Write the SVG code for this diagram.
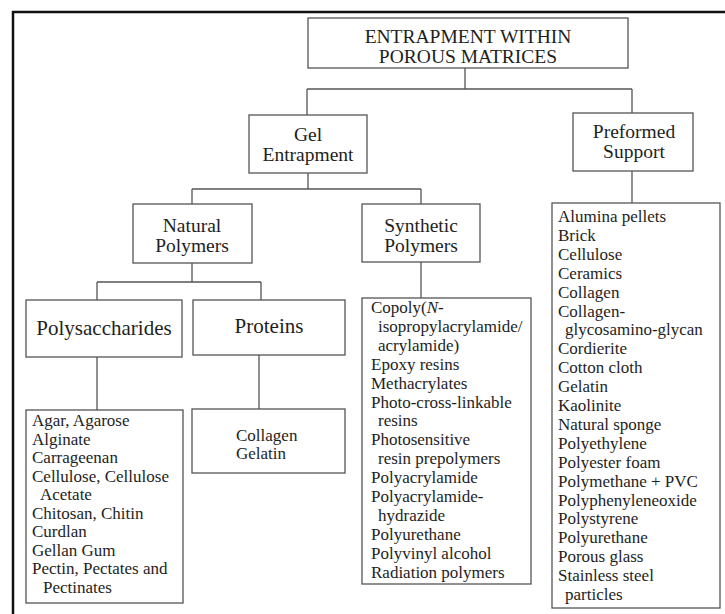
<svg xmlns="http://www.w3.org/2000/svg" width="725" height="614" viewBox="0 0 725 614">
<style>
.box{fill:#fff;stroke:#555;stroke-width:1.3}
.ln{fill:none;stroke:#555;stroke-width:1.3}
.h{font-family:"Liberation Serif","Times New Roman",serif;font-size:19.5px;fill:#1e1e1e;text-anchor:middle}
.l{font-family:"Liberation Serif","Times New Roman",serif;font-size:17px;fill:#1e1e1e}
</style>
<rect x="0" y="0" width="725" height="614" fill="#fff"/>
<path d="M13 614 V12 H725" fill="none" stroke="#111" stroke-width="2.5"/>
<g id="connectors">
<path class="ln" d="M465 68 V89 M307 89 H632 M307 89 V115 M632 89 V113"/>
<path class="ln" d="M308 173 V189 M192 189 H421 M192 189 V204 M421 189 V204"/>
<path class="ln" d="M192 263 V282 M97 282 H261 M97 282 V300 M261 282 V300"/>
<path class="ln" d="M421 262 V298"/>
<path class="ln" d="M632 171 V203"/>
<path class="ln" d="M97 357 V410"/>
<path class="ln" d="M259 355 V409"/>
</g>
<g id="root">
<rect class="box" x="308" y="18" width="320" height="50"/>
<text class="h" x="468" y="42.5">ENTRAPMENT WITHIN</text>
<text class="h" x="468" y="62.5">POROUS MATRICES</text>
</g>
<g id="gel">
<rect class="box" x="249" y="115" width="118" height="58"/>
<text class="h" x="308" y="141">Gel</text>
<text class="h" x="308" y="161">Entrapment</text>
</g>
<g id="preformed">
<rect class="box" x="573" y="113" width="120" height="58"/>
<text class="h" x="634" y="138">Preformed</text>
<text class="h" x="634" y="158">Support</text>
</g>
<g id="natural">
<rect class="box" x="133" y="204" width="119" height="59"/>
<text class="h" x="192" y="232">Natural</text>
<text class="h" x="192" y="252">Polymers</text>
</g>
<g id="synthetic">
<rect class="box" x="362" y="204" width="118" height="58"/>
<text class="h" x="421" y="231.5">Synthetic</text>
<text class="h" x="421" y="251.5">Polymers</text>
</g>
<g id="polysaccharides">
<rect class="box" x="26" y="300" width="156" height="57"/>
<text class="h" x="104" y="335" style="font-size:21px">Polysaccharides</text>
</g>
<g id="proteins">
<rect class="box" x="193" y="300" width="152" height="55"/>
<text class="h" x="269" y="333" style="font-size:21px">Proteins</text>
</g>
<g id="polysaccharides-list">
<rect class="box" x="26" y="410" width="157" height="193"/>
<text class="l" x="32" y="426">Agar, Agarose</text>
<text class="l" x="32" y="444.5">Alginate</text>
<text class="l" x="32" y="463">Carrageenan</text>
<text class="l" x="32" y="481.5">Cellulose, Cellulose</text>
<text class="l" x="40" y="500">Acetate</text>
<text class="l" x="32" y="518.5">Chitosan, Chitin</text>
<text class="l" x="32" y="537">Curdlan</text>
<text class="l" x="32" y="555.5">Gellan Gum</text>
<text class="l" x="32" y="574">Pectin, Pectates and</text>
<text class="l" x="43" y="592.5">Pectinates</text>
</g>
<g id="proteins-list">
<rect class="box" x="192" y="409" width="153" height="64"/>
<text class="l" x="236" y="441">Collagen</text>
<text class="l" x="236" y="459">Gelatin</text>
</g>
<g id="synthetic-list">
<rect class="box" x="362" y="298" width="169" height="286"/>
<text class="l" x="371" y="313">Copoly(<tspan font-style="italic">N</tspan>-</text>
<text class="l" x="378" y="331.9">isopropylacrylamide/</text>
<text class="l" x="378" y="350.8">acrylamide)</text>
<text class="l" x="371" y="369.7">Epoxy resins</text>
<text class="l" x="371" y="388.6">Methacrylates</text>
<text class="l" x="371" y="407.5">Photo-cross-linkable</text>
<text class="l" x="378" y="426.4">resins</text>
<text class="l" x="371" y="445.3">Photosensitive</text>
<text class="l" x="378" y="464.2">resin prepolymers</text>
<text class="l" x="371" y="483.1">Polyacrylamide</text>
<text class="l" x="371" y="502">Polyacrylamide-</text>
<text class="l" x="378" y="520.9">hydrazide</text>
<text class="l" x="371" y="539.8">Polyurethane</text>
<text class="l" x="371" y="558.7">Polyvinyl alcohol</text>
<text class="l" x="371" y="577.6">Radiation polymers</text>
</g>
<g id="preformed-list">
<rect class="box" x="552" y="203" width="168" height="405"/>
<text class="l" x="558" y="222">Alumina pellets</text>
<text class="l" x="558" y="240.9">Brick</text>
<text class="l" x="558" y="259.8">Cellulose</text>
<text class="l" x="558" y="278.7">Ceramics</text>
<text class="l" x="558" y="297.6">Collagen</text>
<text class="l" x="558" y="316.5">Collagen-</text>
<text class="l" x="565" y="335.4">glycosamino-glycan</text>
<text class="l" x="558" y="354.3">Cordierite</text>
<text class="l" x="558" y="373.2">Cotton cloth</text>
<text class="l" x="558" y="392.1">Gelatin</text>
<text class="l" x="558" y="411">Kaolinite</text>
<text class="l" x="558" y="429.9">Natural sponge</text>
<text class="l" x="558" y="448.8">Polyethylene</text>
<text class="l" x="558" y="467.7">Polyester foam</text>
<text class="l" x="558" y="486.6">Polymethane + PVC</text>
<text class="l" x="558" y="505.5">Polyphenyleneoxide</text>
<text class="l" x="558" y="524.4">Polystyrene</text>
<text class="l" x="558" y="543.3">Polyurethane</text>
<text class="l" x="558" y="562.2">Porous glass</text>
<text class="l" x="558" y="581.1">Stainless steel</text>
<text class="l" x="565" y="600">particles</text>
</g>
</svg>
